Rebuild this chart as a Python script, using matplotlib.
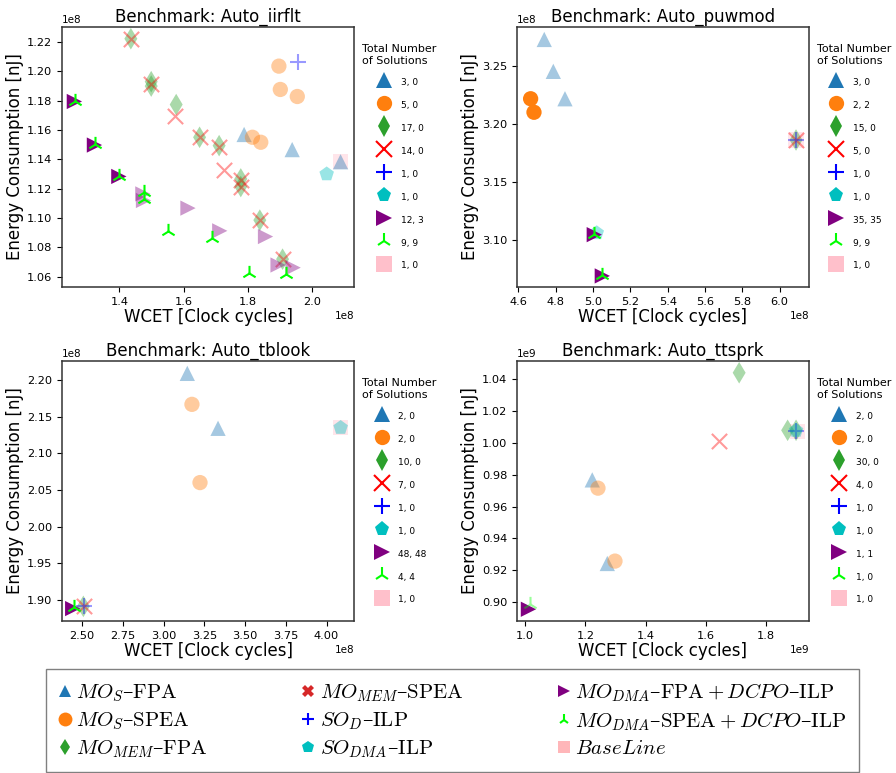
import matplotlib
matplotlib.use('Agg')
import matplotlib.pyplot as plt
from matplotlib.lines import Line2D
from matplotlib.ticker import MultipleLocator

plt.rcParams['mathtext.fontset'] = 'cm'

# each point: (WCET, energy, on pareto front) ; values in units of the axis offset
# --- Auto_iirflt (1e8) ---
iirflt_mos_fpa = [(1.789, 1.157, 0), (1.939, 1.1467, 0), (2.090, 1.1384, 0)]
iirflt_mos_spea = [(1.8975, 1.2036, 0), (1.902, 1.1877, 0), (1.955, 1.1829, 0),
                   (1.815, 1.1551, 0), (1.841, 1.1517, 0)]
iirflt_mom_fpa = [(1.4355, 1.2223, 0), (1.499, 1.1930, 0), (1.499, 1.1900, 0),
                  (1.577, 1.1774, 0), (1.650, 1.1551, 0), (1.711, 1.1494, 0),
                  (1.7786, 1.1267, 0), (1.7786, 1.1215, 0), (1.838, 1.0986, 0),
                  (1.909, 1.0720, 0)]
iirflt_mom_spea = [(1.4355, 1.2223, 0), (1.499, 1.1915, 0), (1.572, 1.1699, 0),
                   (1.650, 1.1551, 0), (1.711, 1.1482, 0), (1.7254, 1.1330, 0),
                   (1.7786, 1.1261, 0), (1.7786, 1.1209, 0), (1.838, 1.0986, 0),
                   (1.909, 1.0720, 0)]
iirflt_sod_ilp = [(1.956, 1.2063, 0)]
iirflt_sodma_ilp = [(2.0467, 1.1300, 0)]
iirflt_modma_fpa = [(1.2592, 1.1795, 1), (1.3218, 1.1498, 1), (1.398, 1.1284, 1),
                    (1.473, 1.1165, 0), (1.475, 1.1120, 0), (1.6138, 1.1068, 0),
                    (1.713, 1.0913, 0), (1.8558, 1.0874, 0), (1.895, 1.0680, 0),
                    (1.942, 1.0662, 0)]
iirflt_modma_spea = [(1.2613, 1.1801, 1), (1.325, 1.1505, 1), (1.400, 1.1289, 1),
                     (1.4761, 1.1175, 1), (1.478, 1.1129, 1), (1.5512, 1.0913, 1),
                     (1.689, 1.0867, 1), (1.8057, 1.0628, 1), (1.9194, 1.0617, 1)]
iirflt_baseline = [(2.090, 1.1384, 0)]
iirflt_counts = ["3, 0", "5, 0", "17, 0", "14, 0", "1, 0", "1, 0", "12, 3", "9, 9", "1, 0"]

# --- Auto_puwmod (1e8) ---
puwmod_mos_fpa = [(4.739, 3.2732, 0), (4.7875, 3.2456, 0), (4.85, 3.2219, 0)]
puwmod_mos_spea = [(4.666, 3.2219, 1), (4.684, 3.2102, 1)]
puwmod_mom_fpa = [(6.0875, 3.1862, 0)]
puwmod_mom_spea = [(6.0875, 3.1862, 0)]
puwmod_sod_ilp = [(6.0875, 3.1862, 0)]
puwmod_sodma_ilp = [(5.020, 3.1058, 0)]
puwmod_modma_fpa = [(5.007, 3.1043, 1), (5.050, 3.0686, 1)]
puwmod_modma_spea = [(5.007, 3.1049, 1), (5.050, 3.0692, 1)]
puwmod_baseline = [(6.0875, 3.1862, 0)]
puwmod_counts = ["3, 0", "2, 2", "15, 0", "5, 0", "1, 0", "1, 0", "35, 35", "9, 9", "1, 0"]

# --- Auto_tblook (1e8) ---
tblook_mos_fpa = [(3.1455, 2.2091, 0), (3.334, 2.1341, 0)]
tblook_mos_spea = [(3.174, 2.1668, 0), (3.2234, 2.0600, 0)]
tblook_mom_fpa = [(2.508, 1.8910, 0)]
tblook_mom_spea = [(2.512, 1.8910, 0)]
tblook_sod_ilp = [(2.514, 1.8910, 0)]
tblook_sodma_ilp = [(4.086, 2.1350, 0)]
tblook_modma_fpa = [(2.4426, 1.8880, 1)]
tblook_modma_spea = [(2.453, 1.8895, 1)]
tblook_baseline = [(4.086, 2.1350, 0)]
tblook_counts = ["2, 0", "2, 0", "10, 0", "7, 0", "1, 0", "1, 0", "48, 48", "4, 4", "1, 0"]

# --- Auto_ttsprk (1e9) ---
ttsprk_mos_fpa = [(1.223, 0.9768, 0), (1.273, 0.9242, 0)]
ttsprk_mos_spea = [(1.242, 0.9716, 0), (1.2985, 0.9257, 0)]
ttsprk_mom_fpa = [(1.711, 1.0442, 0), (1.872, 1.0080, 0), (1.900, 1.0080, 0)]
ttsprk_mom_spea = [(1.6436, 1.0015, 0)]
ttsprk_sod_ilp = [(1.900, 1.0078, 0)]
ttsprk_sodma_ilp = [(1.900, 1.0078, 0)]
ttsprk_modma_fpa = [(1.011, 0.8954, 1)]
ttsprk_modma_spea = [(1.0166, 0.8990, 0)]
ttsprk_baseline = [(1.905, 1.0074, 0)]
ttsprk_counts = ["2, 0", "2, 0", "30, 0", "4, 0", "1, 0", "1, 0", "1, 1", "1, 0", "1, 0"]

bench_names = ["Auto_iirflt", "Auto_puwmod", "Auto_tblook", "Auto_ttsprk"]
bench_scale = [1e8, 1e8, 1e8, 1e9]
bench_xlim = [(1.2206, 2.132), (4.593, 6.157), (2.377, 4.168), (0.973, 1.943)]
bench_ylim = [(1.053, 1.2303), (3.059, 3.284), (1.871, 2.226), (0.888, 1.0516)]
bench_xstep = [0.2, 0.2, 0.25, 0.2]
bench_ystep = [0.02, 0.05, 0.05, 0.02]

series_labels = [r"$MO_S$–$\mathrm{FPA}$", r"$MO_S$–$\mathrm{SPEA}$",
                 r"$MO_{MEM}$–$\mathrm{FPA}$", r"$MO_{MEM}$–$\mathrm{SPEA}$",
                 r"$SO_D$–$\mathrm{ILP}$", r"$SO_{DMA}$–$\mathrm{ILP}$",
                 r"$MO_{DMA}$–$\mathrm{FPA}+DCPO$–$\mathrm{ILP}$",
                 r"$MO_{DMA}$–$\mathrm{SPEA}+DCPO$–$\mathrm{ILP}$",
                 r"$BaseLine$"]
markers = ['^', 'o', 'd', 'x', '+', 'p', '>', '2', 's']
colors = ['tab:blue', 'tab:orange', 'tab:green', 'red', 'blue', 'c', 'purple', 'lime', 'pink']
line_marker = ['x', '+', '2']

bench_data = [
    [iirflt_mos_fpa, iirflt_mos_spea, iirflt_mom_fpa, iirflt_mom_spea, iirflt_sod_ilp,
     iirflt_sodma_ilp, iirflt_modma_fpa, iirflt_modma_spea, iirflt_baseline],
    [puwmod_mos_fpa, puwmod_mos_spea, puwmod_mom_fpa, puwmod_mom_spea, puwmod_sod_ilp,
     puwmod_sodma_ilp, puwmod_modma_fpa, puwmod_modma_spea, puwmod_baseline],
    [tblook_mos_fpa, tblook_mos_spea, tblook_mom_fpa, tblook_mom_spea, tblook_sod_ilp,
     tblook_sodma_ilp, tblook_modma_fpa, tblook_modma_spea, tblook_baseline],
    [ttsprk_mos_fpa, ttsprk_mos_spea, ttsprk_mom_fpa, ttsprk_mom_spea, ttsprk_sod_ilp,
     ttsprk_sodma_ilp, ttsprk_modma_fpa, ttsprk_modma_spea, ttsprk_baseline],
]
bench_counts = [iirflt_counts, puwmod_counts, tblook_counts, ttsprk_counts]

fig = plt.figure(figsize=(8.96, 7.73), dpi=100)
positions = [[0.0692, 0.6287, 0.3259, 0.3364], [0.577, 0.6287, 0.3259, 0.3364],
             [0.0692, 0.1966, 0.3259, 0.3364], [0.577, 0.1966, 0.3259, 0.3364]]

for b in range(4):
    ax = fig.add_axes(positions[b])
    sc = bench_scale[b]
    # baseline first so it sits underneath
    order = [8, 0, 1, 2, 3, 4, 5, 6, 7]
    for i in order:
        pts = bench_data[b][i]
        for front in (0, 1):
            xs = [p[0] * sc for p in pts if p[2] == front]
            ys = [p[1] * sc for p in pts if p[2] == front]
            if not xs:
                continue
            a = 1.0 if front else 0.4
            if markers[i] in line_marker:
                ax.scatter(xs, ys, marker=markers[i], s=121, color=colors[i],
                           alpha=a, linewidths=1.5)
            else:
                ax.scatter(xs, ys, marker=markers[i], s=121, color=colors[i],
                           alpha=a, edgecolors='none')
    ax.set_xlim(bench_xlim[b][0] * sc, bench_xlim[b][1] * sc)
    ax.set_ylim(bench_ylim[b][0] * sc, bench_ylim[b][1] * sc)
    ax.xaxis.set_major_locator(MultipleLocator(bench_xstep[b] * sc))
    ax.yaxis.set_major_locator(MultipleLocator(bench_ystep[b] * sc))
    ax.tick_params(labelsize=8.2)
    ax.xaxis.get_offset_text().set_fontsize(7.5)
    ax.yaxis.get_offset_text().set_fontsize(7.5)
    for sp in ax.spines.values():
        sp.set_color('0.2')
        sp.set_linewidth(1.1)
    ax.set_title("Benchmark: " + bench_names[b], fontsize=12, pad=4)
    ax.set_xlabel("WCET [Clock cycles]", fontsize=12, labelpad=1)
    ax.set_ylabel("Energy Consumption [nJ]", fontsize=12, labelpad=2)

    handles = []
    for i in range(9):
        handles.append(Line2D([], [], marker=markers[i], color=colors[i], linestyle='none',
                              markersize=11, markeredgewidth=1.5 if markers[i] in line_marker else 0))
    ax.legend(handles, bench_counts[b], loc='upper left', bbox_to_anchor=(1.0, 0.965),
              frameon=False, fontsize=6.5, title="Total Number\nof Solutions",
              title_fontsize=8, labelspacing=1.0, handleheight=2.0,
              handlelength=2.0, handletextpad=0.8)

# shared method legend at the bottom
main_handles = []
main_markers = ['^', 'o', 'd', 'X', '+', 'p', '>', '2', 's']
main_colors = ['tab:blue', 'tab:orange', 'tab:green', 'tab:red', 'blue', 'c', 'purple', 'lime', '#ffb6b9']
main_sizes = [8, 10, 8, 8, 9, 9, 8, 8, 8]
for i in range(9):
    main_handles.append(Line2D([], [], marker=main_markers[i], color=main_colors[i],
                               linestyle='none', markersize=main_sizes[i],
                               markeredgewidth=1.5 if main_markers[i] in line_marker else 0))
fig.legend(main_handles, series_labels, ncol=3, loc='upper left',
           bbox_to_anchor=(46 / 896, 1 - 669 / 773, 813 / 896, 0), mode='expand',
           prop={'family': 'DejaVu Serif', 'size': 15}, fancybox=False, edgecolor='0.5',
           framealpha=1, handlelength=0.6, handletextpad=0.25, labelspacing=0.3,
           borderpad=0.6, borderaxespad=0)

fig.savefig("out.png", dpi=100)
